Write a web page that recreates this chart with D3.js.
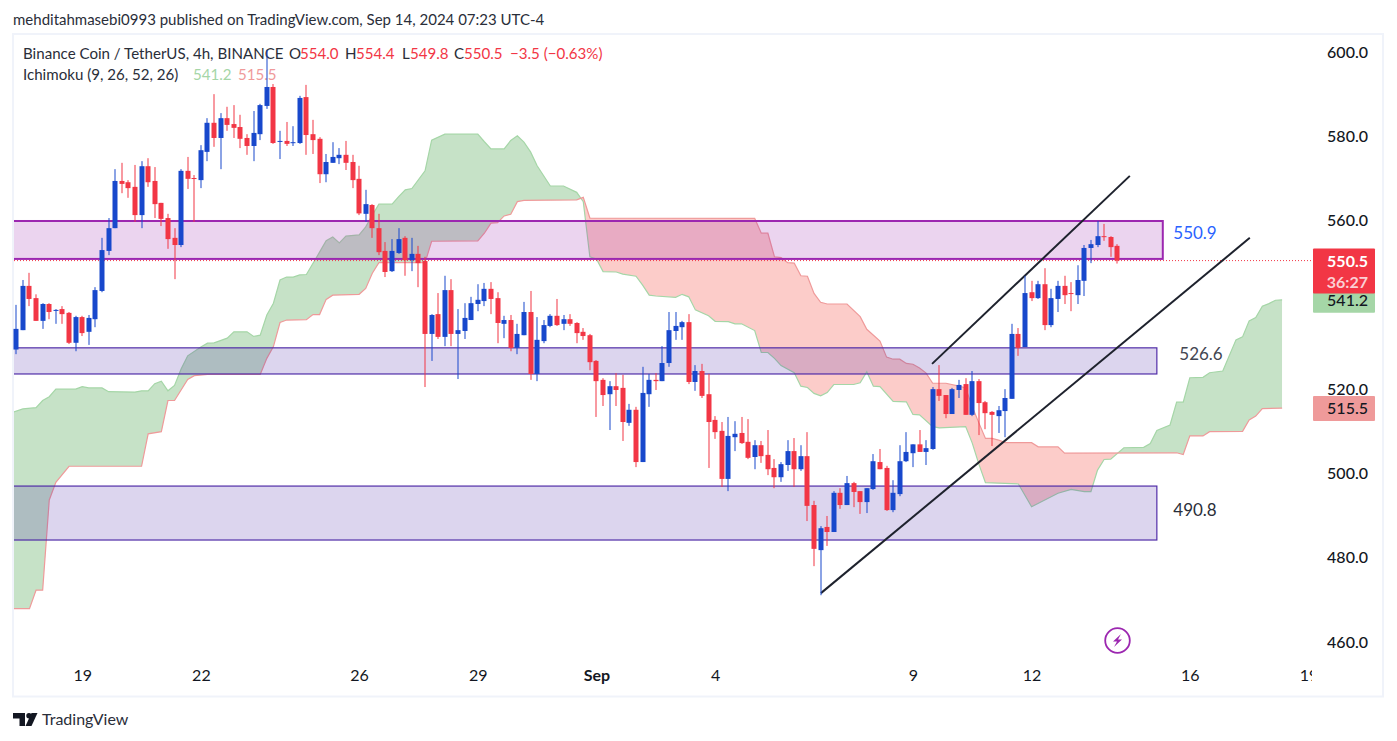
<!DOCTYPE html>
<html>
<head>
<meta charset="utf-8">
<title>BNB / USDT 4h</title>
<script src="https://cdn.jsdelivr.net/npm/d3@7"></script>
<style>
	html, body { margin: 0; padding: 0; background: #fff; }
	svg { display: block; }
	text { font-family: Lato, "Noto Sans", sans-serif; }
</style>
</head>
<body>
<div id="chart"></div>
<script>
// [open, high, low, close] for every 4h bar
const candles = [
	[529.4,540.0,528.3,534.3],[534.0,545.9,534.0,544.5],[544.5,547.6,539.7,541.4],[541.6,542.5,536.2,536.2],
	[536.2,540.4,534.3,540.2],[540.2,540.4,536.6,538.3],[538.6,539.0,535.5,538.8],[539.0,539.7,535.5,537.8],
	[538.1,538.3,530.7,531.0],[531.0,537.4,529.0,537.1],[537.1,537.4,532.6,533.3],[533.6,537.6,530.5,536.9],
	[536.6,544.2,534.7,543.5],[543.3,555.9,543.0,553.0],[552.8,560.6,551.8,558.2],[558.2,572.2,558.2,569.4],
	[569.4,573.7,566.5,568.7],[569.1,569.6,565.4,567.7],[568.0,573.2,559.7,561.3],[561.3,574.1,558.2,572.9],
	[572.9,574.8,568.0,569.1],[569.4,572.7,560.6,563.9],[564.2,564.2,558.7,560.4],[560.6,561.6,553.3,555.6],
	[555.9,558.2,546.1,554.2],[554.2,572.2,553.7,571.8],[571.8,575.1,567.5,569.9],[570.1,570.8,559.7,569.9],
	[569.6,577.9,567.7,576.7],[576.3,584.3,574.1,583.2],[583.2,590.0,577.5,579.6],[579.6,585.5,572.2,584.3],
	[584.3,587.0,581.3,582.7],[582.9,587.4,579.6,582.0],[582.2,585.1,577.2,579.4],[579.6,580.5,575.6,577.7],
	[577.7,586.0,574.1,580.8],[580.5,587.7,579.1,587.4],[587.2,600.5,586.5,591.7],[591.7,592.4,578.2,578.4],
	[578.7,581.3,574.6,578.9],[578.9,583.4,577.7,578.2],[578.4,582.4,577.7,578.6],[578.4,589.6,578.2,589.1],
	[589.3,592.2,575.6,580.3],[580.5,583.9,575.8,579.1],[579.4,579.8,568.9,571.0],[571.0,575.8,569.1,573.9],
	[573.7,578.6,573.7,575.1],[574.8,577.2,573.4,575.6],[575.6,578.9,572.0,573.7],[573.9,575.6,567.7,569.6],
	[569.9,573.0,561.3,561.7],[561.6,567.3,559.7,563.9],[563.7,563.9,555.9,558.2],[558.2,561.6,551.8,552.5],
	[552.8,554.9,546.6,547.8],[548.0,555.6,547.8,552.8],[552.3,558.2,552.1,555.6],[555.9,556.3,546.9,550.6],
	[550.6,555.9,548.0,552.1],[552.1,554.0,544.2,549.9],[550.4,551.4,520.5,533.1],[533.1,537.8,526.7,537.6],
	[537.8,542.8,531.9,532.4],[532.4,546.9,530.2,543.5],[543.5,546.1,530.2,533.1],[533.1,539.0,522.4,534.0],
	[533.8,540.4,531.9,536.9],[536.4,541.9,536.4,540.4],[540.2,544.9,538.5,541.2],[540.9,545.2,539.7,543.8],
	[543.8,545.4,537.8,541.4],[541.6,543.0,530.9,535.7],[535.5,537.4,532.1,536.4],[536.4,537.6,529.0,529.8],
	[529.8,535.5,528.3,533.1],[532.8,540.7,532.8,538.3],[538.3,543.3,522.2,523.6],[523.6,537.1,521.9,531.7],
	[531.4,536.4,530.9,535.2],[535.0,537.8,534.7,537.4],[537.4,541.4,535.0,535.2],[535.5,537.6,534.0,536.6],
	[536.6,537.8,535.0,535.5],[535.7,535.9,530.9,533.3],[533.6,534.5,531.7,532.6],[532.8,533.1,524.5,526.4],
	[526.7,526.9,513.4,521.9],[522.2,522.6,516.0,518.6],[518.8,521.9,510.3,520.7],[520.7,523.8,516.0,519.8],
	[520.3,523.4,507.7,512.2],[512.0,516.5,511.3,515.1],[515.1,515.8,501.5,502.7],[502.7,525.3,502.7,519.1],
	[518.8,523.6,515.8,522.2],[522.2,523.8,519.8,521.9],[521.9,530.2,521.9,526.2],[526.2,538.3,525.3,534.0],
	[533.8,538.3,531.7,535.0],[534.7,536.2,531.7,535.9],[535.9,537.8,521.2,521.7],[521.7,525.7,519.6,524.3],
	[524.3,526.0,517.9,518.4],[518.8,523.6,501.3,512.2],[512.7,513.6,508.2,509.8],[510.1,512.2,496.8,498.7],
	[498.7,513.4,495.8,508.9],[508.6,512.4,505.3,509.4],[509.6,513.4,507.0,507.2],[507.5,512.9,503.4,503.7],
	[503.9,507.9,501.0,506.7],[506.7,507.7,502.5,504.1],[504.4,510.3,499.6,501.0],[501.3,503.4,496.5,499.1],
	[499.1,502.7,498.0,502.2],[502.0,507.9,500.6,505.3],[505.3,508.4,496.8,501.0],[501.0,506.7,500.6,504.1],
	[504.1,509.8,488.7,492.3],[492.5,493.5,478.0,482.1],[481.8,487.5,471.1,487.0],[487.3,489.9,482.8,486.1],
	[486.1,495.8,486.1,495.4],[495.4,496.5,491.6,492.5],[492.5,499.4,492.5,497.7],[497.7,498.0,492.0,495.6],
	[495.8,495.8,490.4,493.2],[493.2,496.5,490.6,496.5],[496.3,504.6,496.1,502.9],[502.7,505.8,501.0,501.0],
	[501.3,501.8,491.1,491.3],[491.3,498.4,490.8,495.4],[495.1,506.7,494.6,502.9],[502.9,509.8,502.7,505.1],
	[504.8,506.9,501.5,506.9],[506.9,510.3,505.1,505.1],[505.1,507.9,502.0,506.0],[505.8,520.5,505.6,520.0],
	[520.0,525.7,517.2,518.4],[518.6,518.6,513.1,514.1],[514.1,520.3,514.1,520.0],[519.8,522.2,517.9,521.0],
	[521.2,522.6,513.9,513.9],[513.9,524.3,513.6,521.9],[521.9,522.4,509.1,516.7],[516.9,517.2,510.5,514.3],
	[514.6,514.8,506.5,513.9],[513.6,516.0,509.6,515.0],[514.8,520.0,508.6,517.9],[517.7,535.5,517.7,533.1],
	[533.1,534.5,527.9,529.8],[530.0,546.9,530.0,542.8],[543.0,545.7,540.9,541.6],[541.6,545.7,541.4,544.9],
	[544.9,548.7,534.0,535.2],[535.2,543.8,534.7,541.6],[541.4,545.7,538.3,544.5],[544.5,546.9,540.2,542.3],
	[542.8,545.4,538.5,542.6],[542.3,549.4,540.2,545.9],[545.7,554.2,542.1,553.5],[553.5,555.4,549.9,554.4],
	[554.2,559.9,553.7,556.3],[556.3,559.2,555.2,556.1],[556.1,556.3,551.4,553.7],[554.0,554.4,549.8,550.5]
];

// Ichimoku leading spans as [bar, price] at the corners of each line
const spanA = [
	[-1,514.3],[1,515.3],[3,515.6],[4,517.3],[5,518.2],[6,520.0],[9,520.0],[10,520.6],[11,520.3],[13,520.3],[14,519.4],
	[18,519.3],[19,519.6],[20,519.6],[21,521.3],[22,521.9],[23,519.6],[24,520.9],[25,524.8],[26,527.9],[28,530.0],
	[29,530.9],[30,531.0],[32,532.1],[33,533.6],[35,533.6],[36,532.5],[37,532.8],[38,537.6],[39,540.4],[40,545.9],
	[41,546.6],[42,546.6],[43,547.1],[44,547.2],[46,552.5],[47,555.2],[48,556.1],[49,554.7],[50,556.3],[52,556.6],
	[53,558.5],[54,561.3],[55,563.9],[57,563.9],[58,565.7],[59,567.3],[60,567.6],[62,571.8],[63,579.1],[65,580.5],
	[70,580.5],[71,578.7],[72,577.0],[74,577.0],[75,579.0],[76,580.1],[77,578.6],[78,576.3],[79,573.0],[81,568.2],
	[83,568.2],[85,566.7],[86,564.5],[87,551.4],[88,550.9],[89,547.9],[91,547.8],[92,547.3],[94,546.8],[95,544.7],
	[96,542.3],[97,542.1],[100,541.8],[101,542.5],[102,541.9],[103,538.8],[105,537.4],[106,536.1],[108,536.0],
	[109,535.5],[110,535.5],[112,533.9],[113,528.7],[114,528.7],[115,527.3],[116,525.6],[118,523.9],[119,520.7],
	[120,520.4],[121,519.0],[122,518.4],[123,519.2],[124,521.1],[127,521.1],[128,521.5],[129,524.1],[130,520.7],
	[131,520.6],[133,517.1],[135,517.0],[136,514.0],[137,513.9],[139,511.1],[140,510.8],[144,511.1],[145,507.2],
	[146,502.2],[147,497.8],[152,497.5],[154,492.1],[158,495.3],[160,496.2],[162,495.7],[163,495.7],[164,500.8],
	[165,503.3],[166,503.4],[168,506.1],[171,506.2],[172,507.1],[173,510.2],[175,511.5],[176,516.9],[177,516.9],
	[178,522.7],[180,522.8],[181,523.9],[183,524.3],[185,531.7],[186,532.4],[187,536.2],[188,537.0],[189,539.7],
	[190,540.3],[191,541.1],[192,541.2]
];
const spanB = [
	[-1,467.9],[2,467.9],[3,472.3],[4,472.3],[5,493.7],[6,497.9],[8,501.7],[19,501.7],[20,509.4],[22,509.9],[23,517.3],
	[24,517.3],[26,522.3],[27,523.2],[29,523.5],[37,523.5],[38,527.3],[39,530.1],[40,535.8],[41,536.4],[44,536.5],
	[45,537.7],[46,537.7],[47,541.3],[48,542.3],[52,542.5],[53,543.9],[54,547.5],[55,550.0],[62,550.0],[63,555.1],
	[70,555.2],[71,557.0],[72,559.4],[73,559.5],[74,561.1],[75,561.5],[76,564.5],[77,564.8],[85,564.9],[86,565.5],
	[87,560.6],[112,560.5],[113,557.0],[114,557.0],[115,551.4],[116,551.2],[117,550.0],[118,549.9],[119,546.9],
	[120,546.8],[121,542.7],[122,540.6],[123,540.2],[126,540.2],[128,537.2],[129,534.2],[131,531.4],[132,527.6],
	[133,527.1],[134,527.1],[135,526.1],[136,525.9],[137,525.0],[138,523.8],[139,521.4],[141,521.4],[143,520.7],
	[144,520.3],[145,515.8],[146,512.0],[147,508.3],[148,508.3],[149,507.9],[150,507.3],[154,507.3],[155,506.3],
	[158,506.3],[159,504.8],[176,504.9],[177,504.5],[178,508.9],[180,508.9],[181,509.9],[186,510.0],[187,512.7],
	[188,513.6],[189,515.4],[192,515.5]
];

// 540.0 is left out: the 541.2 tag sits on top of it in the picture
const priceTicks = [460, 480, 500, 520, 560, 580, 600];
const timeTicks = [10, 28, 52, 70, 88, 106, 136, 154, 178, 196];
const timeLabels = ["19", "22", "26", "29", "Sep", "4", "9", "12", "16", "19"];

// bar ranges and price levels of the drawn boxes, with the value written beside each
const zoneNames = ["550.9", "526.6", "490.8"];
const zoneTop = [559.9, 529.8, 497.0];
const zoneBottom = [550.9, 523.6, 484.2];
const zoneEnd = [173.9, 173, 173];
const zoneLabelPrice = [557.0, 528.3, 491.4];
// trend lines: [bar, price] start and end
const trendLines = [
	[[138.9, 526.0], [168.9, 570.6]],
	[[122.05, 471.6], [187.1, 555.9]]
];

const lastClose = 550.5;
const lastSpanA = 541.2;
const lastSpanB = 515.5;

const width = 1397, height = 741;
const plot = {left: 14, right: 1312, top: 34, bottom: 696};

const x = d3.scaleLinear().domain([0, 167]).range([16.3, 1117.3]);
const y = d3.scaleLinear().domain([460, 600]).range([642, 52]);

const red = "#F23645", blue = "#1848CC";

const svg = d3.select("#chart").append("svg").attr("width", width).attr("height", height);

// frame
svg.append("rect").attr("x", 13).attr("y", 34).attr("width", 1370).attr("height", 662.5)
	.attr("fill", "#fff").attr("stroke", "#F0F3FA").attr("stroke-width", 2);

svg.append("text").attr("x", 13).attr("y", 25).attr("font-size", 15).attr("fill", "#2A2E39")
	.text("mehditahmasebi0993 published on TradingView.com, Sep 14, 2024 07:23 UTC-4");

// legend
const legendSize = 15.1;
function legendText(px, py, txt, fill)
{
	svg.append("text").attr("x", px).attr("y", py).attr("font-size", legendSize).attr("fill", fill).text(txt);
}
legendText(23, 59, "Binance Coin / TetherUS, 4h, BINANCE", "#2A2E39");
legendText(289, 59, "O", "#2A2E39");
legendText(300, 59, "554.0", red);
legendText(345, 59, "H", "#2A2E39");
legendText(356, 59, "554.4", red);
legendText(402, 59, "L", "#2A2E39");
legendText(410, 59, "549.8", red);
legendText(454, 59, "C", "#2A2E39");
legendText(464, 59, "550.5", red);
legendText(510, 59, "\u22123.5 (\u22120.63%)", red);
legendText(23, 80, "Ichimoku (9, 26, 52, 26)", "#2A2E39");
legendText(193, 80, "541.2", "#A5D6A7");
legendText(238, 80, "515.5", "#EF9A9A");

const defs = svg.append("defs");
defs.append("clipPath").attr("id", "plot-clip").append("rect")
	.attr("x", plot.left).attr("y", plot.top).attr("width", plot.right - plot.left).attr("height", plot.bottom - plot.top);

// cloud: each colour is the band under one span cut by the region above the other
const lineGen = d3.line().x(d => x(d[0])).y(d => y(d[1]));
const above = d3.area().x(d => x(d[0])).y0(0).y1(d => y(d[1]));
const below = d3.area().x(d => x(d[0])).y0(height).y1(d => y(d[1]));
defs.append("clipPath").attr("id", "above-b").append("path").attr("d", above(spanB));
defs.append("clipPath").attr("id", "above-a").append("path").attr("d", above(spanA));

const pane = svg.append("g").attr("clip-path", "url(#plot-clip)");

pane.append("g").attr("clip-path", "url(#above-b)").append("path").attr("d", below(spanA))
	.attr("fill", "rgba(67,160,71,0.3)");
pane.append("g").attr("clip-path", "url(#above-a)").append("path").attr("d", below(spanB))
	.attr("fill", "rgba(244,67,54,0.27)");
pane.append("path").attr("d", lineGen(spanA)).attr("fill", "none").attr("stroke", "#A5D6A7").attr("stroke-width", 1.2);
pane.append("path").attr("d", lineGen(spanB)).attr("fill", "none").attr("stroke", "#EF9A9A").attr("stroke-width", 1.2);

// boxes
const zoneColor = ["#9C27B0", "#512DA8", "#512DA8"];
const zoneWidth = [2, 1.2, 1.2];
zoneNames.forEach((name, i) => {
	pane.append("rect")
		.attr("x", x(-20))
		.attr("y", y(zoneTop[i]))
		.attr("width", x(zoneEnd[i]) - x(-20))
		.attr("height", y(zoneBottom[i]) - y(zoneTop[i]))
		.attr("fill", zoneColor[i]).attr("fill-opacity", 0.2)
		.attr("stroke", zoneColor[i]).attr("stroke-width", zoneWidth[i]);
});

// last price line
pane.append("line").attr("x1", plot.left).attr("x2", plot.right).attr("y1", y(lastClose)).attr("y2", y(lastClose))
	.attr("stroke", red).attr("stroke-width", 1).attr("stroke-dasharray", "1 2");

// candles
const bars = svg.append("g").selectAll("g").data(candles).enter().append("g")
	.attr("fill", d => d[3] >= d[0] ? blue : red);
bars.append("rect")
	.attr("x", (d, i) => Math.round(x(i)) - 0.5)
	.attr("y", d => y(d[1]))
	.attr("width", 1)
	.attr("height", d => y(d[2]) - y(d[1]));
bars.append("rect")
	.attr("x", (d, i) => Math.round(x(i)) - 2.5)
	.attr("y", d => y(Math.max(d[0], d[3])))
	.attr("width", 5)
	.attr("height", d => Math.max(1, Math.abs(y(d[0]) - y(d[3]))));

// trend lines
pane.selectAll("path.trend").data(trendLines).enter().append("path")
	.attr("class", "trend")
	.attr("d", lineGen)
	.attr("fill", "none").attr("stroke", "#1E222D").attr("stroke-width", 2);

// values beside the boxes
const zoneLabelX = [1195, 1201, 1195];
const zoneLabelColor = ["#2962FF", "#434651", "#2A2E39"];
zoneNames.forEach((name, i) => {
	svg.append("text").attr("x", zoneLabelX[i]).attr("y", y(zoneLabelPrice[i]))
		.attr("dy", "0.35em").attr("text-anchor", "middle").attr("font-size", 17)
		.attr("fill", zoneLabelColor[i]).text(name);
});

// lightning badge
const badge = svg.append("g").attr("transform", "translate(1117.5,640.5)");
badge.append("circle").attr("r", 12.3).attr("fill", "#fff").attr("stroke", "#9C27B0").attr("stroke-width", 1.8);
badge.append("path").attr("d", "M3.5 -6.5 L-4.5 1 L-0.5 1 L-3.5 6.5 L4.5 -1 L0.5 -1 Z").attr("fill", "#9C27B0");

// axes
const xAxis = d3.axisBottom(x).tickValues(timeTicks).tickSize(0).tickPadding(0)
	.tickFormat((d, i) => timeLabels[i]);
const xg = svg.append("g").attr("transform", "translate(0,670)").attr("clip-path", "url(#x-clip)").call(xAxis);
defs.append("clipPath").attr("id", "x-clip").append("rect").attr("x", plot.left).attr("y", 0).attr("width", plot.right - plot.left).attr("height", 30);
xg.select(".domain").remove();
xg.selectAll("text").attr("font-size", 16).attr("fill", "#131722").attr("font-family", "Lato, 'Noto Sans', sans-serif");
xg.selectAll("text").filter(d => timeLabels[timeTicks.indexOf(d)] === "Sep").attr("font-weight", 700);

const yAxis = d3.axisRight(y).tickValues(priceTicks).tickSize(0).tickPadding(0).tickFormat(d3.format(".1f"));
const yg = svg.append("g").attr("transform", "translate(1368,0)").call(yAxis);
yg.select(".domain").remove();
yg.selectAll("text").attr("text-anchor", "end").attr("font-size", 16).attr("fill", "#131722")
	.attr("font-weight", 500).attr("font-family", "Lato, 'Noto Sans', sans-serif");

// price tags
const tagX = 1313, tagW = 62;
function tag(price, h, fill, lines)
{
	let top = y(price) - 12;
	svg.append("rect").attr("x", tagX).attr("y", top).attr("width", tagW).attr("height", h).attr("fill", fill).attr("rx", 1);
	lines.forEach((l, i) => {
		svg.append("text").attr("x", 1368).attr("y", top + 18 + i * 21).attr("text-anchor", "end")
			.attr("font-size", 16).attr("font-weight", l.bold ? 700 : 500).attr("fill", l.fill).text(l.text);
	});
}
tag(lastSpanA, 25, "#A5D6A7", [{text: d3.format(".1f")(lastSpanA), fill: "#131722"}]);
tag(lastSpanB, 25, "#EF9A9A", [{text: d3.format(".1f")(lastSpanB), fill: "#131722"}]);
tag(lastClose, 45, red, [{text: d3.format(".1f")(lastClose), fill: "#fff", bold: true}, {text: "36:27", fill: "#FBD0D4", bold: true}]);

// footer logo
const logo = svg.append("g").attr("fill", "#131722");
logo.append("path").attr("d", "M13 713 H25 V726 H19.5 V718.5 H13 Z");
logo.append("circle").attr("cx", 29).attr("cy", 715.7).attr("r", 2.7);
logo.append("path").attr("d", "M31.5 713 H37.5 L31.5 726 H25.5 Z");
svg.append("text").attr("x", 42).attr("y", 725).attr("font-size", 16).attr("fill", "#2A2E39").text("TradingView");
</script>
</body>
</html>
